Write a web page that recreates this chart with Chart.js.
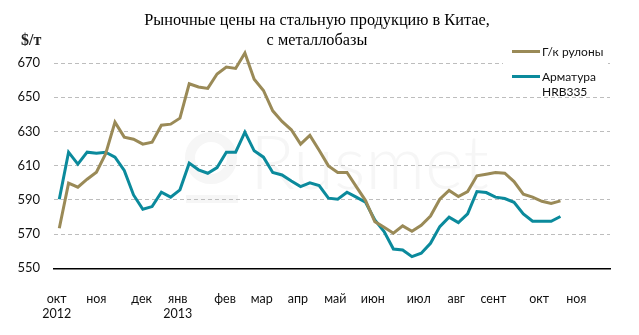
<!DOCTYPE html>
<html lang="ru">
<head>
<meta charset="utf-8">
<title>Рыночные цены на стальную продукцию в Китае</title>
<script src="https://cdn.jsdelivr.net/npm/chart.js@4.4.1/dist/chart.umd.min.js"></script>
<style>
  html, body { margin: 0; padding: 0; background: #fff; }
  #wrap { position: relative; width: 639px; height: 335px; overflow: hidden; }
  #grafik { position: absolute; left: 0; top: 0; z-index: 1; }
  .judul {
    position: absolute; left: 117px; top: 10px; width: 400px; z-index: 2;
    font: 16.3px/20px "Liberation Serif", "DejaVu Serif", serif; color: #000; text-align: center;
  }
  .satuan {
    position: absolute; left: 21px; top: 31px; z-index: 2;
    font: bold 16px/18px "Liberation Serif", "DejaVu Serif", serif; color: #222;
  }
  .legenda {
    position: absolute; left: 503px; top: 40px; width: 105px; height: 55px;
    background: #fff; z-index: 2;
    font: 12px/15px Lato, "Liberation Sans", sans-serif; color: #111;
  }
  .legenda .garis { position: absolute; left: 9px; width: 28px; height: 3px; }
  .legenda .teks { position: absolute; left: 39px; white-space: nowrap; }
  /* водяной знак за графиком */
  .watermark {
    position: absolute; left: 250px; top: 122px; z-index: 0;
    font: 300 74px/78px Lato, "Liberation Sans", sans-serif; color: #f6f6f6;
  }
  .watermark-logo {
    position: absolute; left: 185px; top: 132px; width: 52px; height: 52px; z-index: 0;
    border: 10px solid #f6f6f6; border-radius: 50%; box-sizing: border-box;
  }
  .watermark-bar {
    position: absolute; left: 186px; top: 195px; width: 52px; height: 8px; z-index: 0;
    background: #f6f6f6;
  }
</style>
</head>
<body>
<div id="wrap">
  <div class="watermark-logo"></div>
  <div class="watermark-bar"></div>
  <div class="watermark">Rusmet</div>
  <canvas id="grafik" width="639" height="335"></canvas>
  <div class="judul">Рыночные цены на стальную продукцию в Китае,<br>с металлобазы</div>
  <div class="satuan">$/т</div>
  <div class="legenda">
    <div class="garis" style="top:10px;background:#9a8a57"></div>
    <div class="teks" style="top:4px">Г/к рулоны</div>
    <div class="garis" style="top:34.5px;background:#0b8a9c"></div>
    <div class="teks" style="top:28.5px">Арматура<br>HRB335</div>
  </div>
</div>
<script>
// недельные цены, $/т (окт 2012 – окт 2013)
const rulony = [
  573.4, 599.8, 597.4, 602.1, 606.2, 617.0, 635.5, 626.7, 625.5, 622.6,
  623.8, 633.7, 634.3, 637.8, 657.9, 656.0, 655.2, 663.6, 667.7, 666.9,
  675.9, 660.6, 654.0, 642.1, 635.9, 631.0, 622.6, 627.7, 619.0, 609.9,
  606.0, 606.0, 597.8, 589.6, 577.3, 574.0, 570.5, 574.8, 571.7, 575.2,
  580.6, 590.4, 595.5, 592.0, 594.9, 604.1, 605.0, 606.0, 605.6, 600.7,
  593.3, 591.6, 589.2, 587.9, 589.4
];
const armatura = [
  590.4, 617.9, 610.9, 617.9, 617.3, 617.9, 615.0, 607.2, 592.9, 584.5,
  586.1, 594.5, 591.6, 595.9, 611.5, 607.6, 605.6, 608.9, 617.9, 617.9,
  629.6, 618.7, 615.0, 606.0, 604.6, 601.1, 597.8, 600.0, 598.4, 591.0,
  590.4, 594.5, 591.6, 588.6, 578.3, 571.5, 561.3, 560.7, 556.8, 558.8,
  564.6, 574.4, 579.9, 576.7, 581.8, 594.9, 594.3, 591.6, 590.8, 588.6,
  581.8, 577.5, 577.5, 577.5, 580.3
];

// подписи оси X (позиция в неделях от первой точки)
const bulan = ['окт', 'ноя', 'дек', 'янв', 'фев', 'мар', 'апр', 'май', 'июн', 'июл', 'авг', 'сент', 'окт', 'ноя'];
const tahun = ['2012', '', '', '2013', '', '', '', '', '', '', '', '', '', ''];
const posisiBulan = [-0.28, 3.99, 8.88, 12.76, 17.86, 21.81, 25.7, 29.74, 33.78, 38.73, 42.77, 46.77, 51.71, 55.71];

// деления оси Y
const tickY = [550, 570, 590, 610, 630, 650, 670];

const keTitik = arr => arr.map((v, i) => ({ x: i, y: v }));
const fontTick = { family: 'Lato, "Liberation Sans", sans-serif', size: 13 };

const ctx = document.getElementById('grafik').getContext('2d');

new Chart(ctx, {
  type: 'line',
  data: {
    datasets: [{
      label: 'Г/к рулоны',
      data: keTitik(rulony),
      borderColor: '#9a8a57',
      borderWidth: 3,
      pointRadius: 0,
      tension: 0
    }, {
      label: 'Арматура HRB335',
      data: keTitik(armatura),
      borderColor: '#0b8a9c',
      borderWidth: 3,
      pointRadius: 0,
      tension: 0
    }]
  },
  options: {
    responsive: false,
    animation: false,
    layout: { padding: { left: 0, right: 29, top: 46, bottom: 0 } },
    plugins: {
      legend: { display: false },
      title: { display: false },
      tooltip: { enabled: false }
    },
    scales: {
      x: {
        type: 'linear',
        min: -0.57,
        max: 59.34,
        grid: { display: false, drawTicks: false },
        border: { display: true, color: '#000', width: 1.5 },
        afterBuildTicks: axis => {
          axis.ticks = posisiBulan.map(v => ({ value: v }));
        },
        afterFit: axis => { axis.height = 66.7; },
        ticks: {
          autoSkip: false,
          maxRotation: 0,
          padding: 23.5,
          color: '#111',
          font: { ...fontTick, size: 12.5, lineHeight: 1.2 },
          callback: (value, index) => tahun[index] ? [bulan[index], tahun[index]] : bulan[index]
        }
      },
      y: {
        min: 550,
        max: 680,
        afterBuildTicks: axis => {
          axis.ticks = tickY.map(v => ({ value: v }));
        },
        afterFit: axis => { axis.width = 54; },
        border: { display: false, dash: [4, 3] },
        grid: {
          drawTicks: false,
          color: c => c.tick && c.tick.value === 550 ? 'rgba(0,0,0,0)' : '#bdbdbd',
          lineWidth: 1
        },
        ticks: {
          padding: 14,
          color: '#111',
          font: fontTick
        }
      }
    }
  }
});
</script>
</body>
</html>
